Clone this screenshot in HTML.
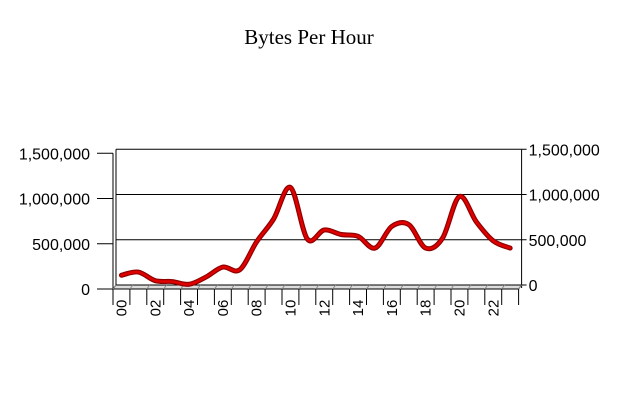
<!DOCTYPE html>
<html><head><meta charset="utf-8"><style>
body{margin:0;background:#fff;}
svg text{font-family:"Liberation Sans",sans-serif;}
</style></head><body>
<svg id="chart" width="620" height="400" xmlns="http://www.w3.org/2000/svg">
<rect width="620" height="400" fill="#fff"/>
<text x="309" y="44" text-anchor="middle" font-size="21" style="font-family:'Liberation Serif',serif">Bytes Per Hour</text>
<g id="grid"></g>
<g id="axes"></g>
<g id="series"></g>
</svg>
<script>
const categories=["00","01","02","03","04","05","06","07","08","09","10","11","12","13","14","15","16","17","18","19","20","21","22","23"];
const values=[130000,165000,70000,60000,30000,110000,220000,190000,500000,750000,1100000,530000,630000,580000,560000,430000,670000,690000,430000,540000,1000000,720000,510000,430000];
const ticks=[0,500000,1000000,1500000];
const tickLabels=["0","500,000","1,000,000","1,500,000"];
const NS="http://www.w3.org/2000/svg";
function mk(t,a,p){const e=document.createElementNS(NS,t);for(const k in a)e.setAttribute(k,a[k]);p.appendChild(e);return e;}
const x0=113,step=16.9,yB0=285,yF0=289,k=90.5/1e6;
const xs=i=>x0+step*(i+0.5);
const yBack=v=>yB0-v*k, yFront=v=>yF0-v*k;
const grid=document.getElementById('grid'),axes=document.getElementById('axes'),series=document.getElementById('series');
const xR=x0+step*24;
let e=mk('line',{x1:116,y1:yBack(1500000),x2:116,y2:yB0,stroke:'#000'},grid);

e=mk('polygon',{points:`${116},${yB0} ${xR+3},${yB0} ${xR},${yF0} ${x0},${yF0}`,fill:'#ddd',stroke:'#000','stroke-width':1},grid);

ticks.forEach((t,i)=>{
 if(t>0){const g=mk('line',{x1:116,y1:yBack(t),x2:xR+3,y2:yBack(t),stroke:'#000'},grid);
 }
 const l=mk('line',{x1:97,y1:yFront(t),x2:x0,y2:yFront(t),stroke:'#000'},axes);
 
 const tx=mk('text',{x:90,y:yFront(t)+6,'text-anchor':'end','font-size':16},axes);tx.textContent=tickLabels[i];
 
 const r=mk('line',{x1:xR+3,y1:yBack(t),x2:xR+8,y2:yBack(t),stroke:'#000'},axes);
 
 const rt=mk('text',{x:xR+10,y:yBack(t)+6,'font-size':16},axes);rt.textContent=tickLabels[i];
 
});
e=mk('line',{x1:x0,y1:yFront(1500000),x2:x0,y2:yF0,stroke:'#000'},axes);

e=mk('line',{x1:xR+3,y1:yBack(1500000),x2:xR+3,y2:yB0+3,stroke:'#000'},axes);

for(let i=0;i<=24;i++){const x=x0+step*i;
 const t=mk('line',{x1:x,y1:yF0,x2:x,y2:305,stroke:'#000'},axes);
 
 const h=mk('line',{x1:x,y1:yF0,x2:x+3,y2:yB0,stroke:'#888'},axes);
 }
categories.forEach((c,i)=>{if(i%2)return;const x=xs(i)+5,y=308;
 const t=mk('text',{x:x,y:y,'font-size':15,'text-anchor':'middle',transform:`rotate(-90 ${x} ${y})`},axes);
 t.textContent=c;
 });
const pts=values.map((v,i)=>[xs(i),yBack(v)+2]);
let d=`M${pts[0][0]},${pts[0][1]}`;
for(let i=0;i<pts.length-1;i++){const p0=pts[Math.max(0,i-1)],p1=pts[i],p2=pts[i+1],p3=pts[Math.min(pts.length-1,i+2)];
 d+=` C${p1[0]+(p2[0]-p0[0])/6},${p1[1]+(p2[1]-p0[1])/6} ${p2[0]-(p3[0]-p1[0])/6},${p2[1]-(p3[1]-p1[1])/6} ${p2[0]},${p2[1]}`;}
e=mk('path',{d:d,fill:'none',stroke:'#900000','stroke-width':5,'stroke-linecap':'round','stroke-linejoin':'round'},series);

e=mk('path',{d:d,fill:'none',stroke:'#e00000','stroke-width':2.5,'stroke-linecap':'round','stroke-linejoin':'round'},series);

</script>
</body></html>
